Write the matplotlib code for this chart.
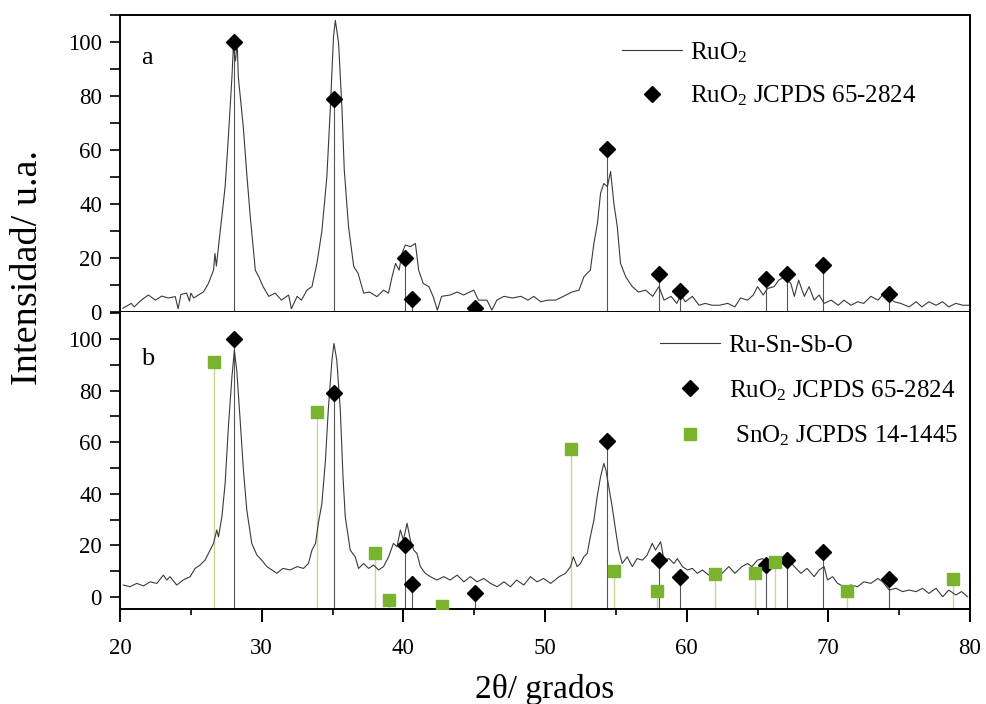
import matplotlib
matplotlib.use("Agg")
import matplotlib.pyplot as plt
from matplotlib.ticker import MultipleLocator

plt.rcParams["font.family"] = ["Liberation Serif", "DejaVu Serif"]
plt.rcParams["mathtext.fontset"] = "custom"
plt.rcParams["mathtext.rm"] = "Liberation Serif"
plt.rcParams["mathtext.it"] = "Liberation Serif:italic"

# --- pattern a: RuO2 ---
ruo2_x = [20.2, 20.8, 21.0, 21.5, 22.0, 22.5, 22.95, 23.4, 23.9, 24.1, 24.3, 24.7, 24.9, 25.0, 25.2,
          25.9, 26.24, 26.6, 26.7, 26.8, 27.19, 27.42, 27.65, 27.9, 28.0, 28.15, 28.27, 28.35, 28.7,
          28.95, 29.2, 29.55, 29.8, 30.1, 30.5, 30.95, 31.4, 31.9, 32.1, 32.5, 32.8, 33.2, 33.55, 33.9,
          34.25, 34.6, 34.84, 35.07, 35.2, 35.43, 35.67, 35.83, 36.13, 36.5, 36.8, 37.2, 37.6, 38.14,
          38.6, 38.95, 39.2, 39.45, 39.7, 39.9, 40.14, 40.5, 40.85, 41.08, 41.4, 41.8, 42.1, 42.4, 42.7,
          43.3, 43.8, 44.25, 44.97, 45.3, 45.9, 46.25, 46.6, 47.1, 47.7, 48.3, 48.8, 49.2, 49.7, 50.2,
          50.74, 51.3, 51.9, 52.4, 52.74, 52.98, 53.2, 53.45, 53.7, 53.92, 54.15, 54.4, 54.63, 54.86,
          55.1, 55.33, 55.7, 56.16, 56.6, 57.1, 57.6, 58.04, 58.4, 58.9, 59.3, 59.6, 59.9, 60.4, 60.87,
          61.3, 61.8, 62.3, 62.9, 63.4, 63.8, 64.3, 64.7, 65.0, 65.4, 65.7, 66.17, 66.5, 66.9, 67.35,
          67.6, 67.9, 68.3, 68.64, 69.0, 69.35, 69.7, 70.2, 70.7, 71.1, 71.6, 72.06, 72.5, 73.0, 73.5,
          73.83, 74.3, 74.65, 75.1, 75.7, 76.2, 76.6, 77.1, 77.6, 78.06, 78.5, 79.0, 79.5, 79.96]
ruo2_y = [1.4, 3.2, 1.9, 4.4, 6.3, 4.4, 5.9, 5.2, 5.7, 1.2, 6.5, 7.0, 4.0, 7.0, 5.2,
          7.5, 10.6, 15.5, 21.7, 17.0, 35.3, 46.4, 65.0, 87.0, 98.0, 93.0, 100.0, 87.0, 68.6,
          51.0, 35.0, 15.5, 13.0, 9.4, 5.8, 7.0, 4.4, 6.3, 1.2, 5.8, 4.4, 8.1, 9.4, 18.0,
          30.0, 50.0, 75.0, 102.0, 108.0, 99.5, 75.0, 52.6, 31.6, 16.8, 14.4, 7.0, 7.4, 5.7,
          8.1, 7.0, 13.0, 18.0, 15.5, 21.7, 24.8, 24.2, 25.4, 15.5, 10.6, 9.4, 5.8, 0.7, 5.8,
          6.3, 7.4, 6.3, 8.1, 4.4, 4.4, 0.7, 4.4, 5.8, 5.2, 5.8, 4.4, 5.8, 3.8, 4.4,
          4.4, 5.8, 7.4, 8.1, 13.0, 14.4, 15.5, 25.4, 32.8, 44.0, 47.6, 46.4, 52.0, 40.2,
          31.6, 18.0, 13.0, 9.4, 7.4, 8.1, 5.8, 9.4, 4.4, 5.8, 3.2, 6.3, 3.8, 5.8, 2.5,
          3.2, 2.5, 2.5, 3.2, 1.9, 5.2, 4.4, 6.3, 9.4, 6.3, 8.7, 9.4, 11.8, 13.0, 10.6,
          5.8, 11.8, 5.8, 9.4, 4.4, 6.3, 3.2, 4.4, 2.5, 4.4, 2.5, 3.8, 3.2, 5.8, 4.4,
          6.3, 5.2, 3.8, 3.2, 1.9, 3.8, 1.9, 3.8, 2.5, 3.8, 1.9, 3.2, 2.5, 2.5]

# --- pattern b: Ru-Sn-Sb-O ---
rssb_x = [20.23, 20.7, 21.18, 21.65, 22.12, 22.6, 23.06, 23.3, 23.53, 24.0, 24.47, 24.95, 25.3, 25.65,
          26.0, 26.36, 26.6, 26.83, 26.95, 27.19, 27.42, 27.65, 27.9, 28.07, 28.24, 28.48, 28.71,
          28.95, 29.3, 29.66, 30.0, 30.37, 30.72, 31.07, 31.5, 32.0, 32.5, 32.95, 33.3, 33.55, 33.8,
          34.0, 34.25, 34.5, 34.7, 34.96, 35.1, 35.3, 35.55, 35.74, 35.9, 36.25, 36.6, 36.84, 37.2,
          37.55, 37.9, 38.25, 38.6, 38.96, 39.3, 39.55, 39.79, 40.0, 40.26, 40.5, 40.73, 40.96, 41.2,
          41.55, 41.9, 42.37, 42.85, 43.3, 43.8, 44.27, 44.73, 45.2, 45.68, 46.15, 46.62, 47.1,
          47.56, 48.0, 48.5, 48.97, 49.44, 49.9, 50.4, 51.0, 51.45, 51.8, 52.0, 52.27, 52.5, 52.74,
          52.98, 53.2, 53.45, 53.68, 53.92, 54.15, 54.3, 54.5, 54.74, 54.98, 55.2, 55.45, 55.8, 56.16,
          56.5, 56.87, 57.2, 57.57, 57.8, 58.16, 58.4, 58.75, 59.1, 59.34, 59.7, 60.05, 60.4, 60.75,
          61.1, 61.57, 62.0, 62.5, 62.97, 63.4, 63.9, 64.3, 64.6, 65.0, 65.35, 65.7, 66.17, 66.6,
          67.1, 67.6, 68.06, 68.5, 69.0, 69.35, 69.7, 69.94, 70.3, 70.65, 71.1, 71.6, 72.06, 72.5,
          73.0, 73.5, 73.83, 74.3, 74.77, 75.24, 75.7, 76.2, 76.65, 77.1, 77.6, 78.07, 78.5, 79.0,
          79.4, 79.83]
rssb_y = [4.65, 4.0, 5.3, 4.3, 5.9, 5.3, 8.5, 6.6, 7.9, 4.65, 6.6, 7.9, 11.1, 12.4,
          14.3, 18.2, 20.8, 26.0, 23.3, 31.1, 44.0, 66.0, 85.4, 95.7, 87.9, 68.6, 49.2,
          33.7, 20.8, 16.3, 14.3, 11.8, 10.5, 9.2, 11.1, 10.5, 11.8, 11.1, 13.0, 18.2, 20.8,
          28.6, 36.3, 53.0, 72.5, 91.9, 98.3, 91.9, 72.5, 46.6, 31.1, 18.2, 15.6, 11.1, 13.0,
          11.1, 12.4, 10.5, 11.8, 15.6, 20.8, 19.5, 26.0, 22.0, 28.6, 22.0, 18.2, 16.9, 11.8,
          9.2, 7.9, 6.6, 7.9, 6.6, 8.5, 5.9, 7.9, 5.9, 7.2, 5.3, 4.0, 5.9,
          4.0, 6.6, 4.65, 7.9, 5.9, 7.2, 5.3, 7.9, 9.2, 11.8, 15.6, 11.8, 13.0, 15.6,
          16.9, 23.4, 29.8, 38.9, 46.6, 51.8, 49.2, 42.7, 35.0, 26.0, 18.2, 13.0, 15.6, 11.8,
          14.9, 14.3, 16.2, 20.8, 18.2, 21.4, 14.3, 14.9, 13.0, 14.9, 11.8, 10.5, 11.1, 9.2,
          10.5, 8.5, 9.8, 9.2, 11.8, 9.2, 11.8, 13.0, 11.8, 14.3, 14.9, 13.0, 14.9, 13.0,
          14.9, 11.8, 9.2, 11.1, 7.9, 10.5, 11.8, 6.6, 7.9, 5.3, 4.0, 4.65, 4.0, 5.9,
          5.3, 7.2, 5.9, 2.7, 3.4, 2.1, 2.7, 2.1, 3.4, 1.4, 3.4, 0.1, 2.7, 0.8,
          2.1, 0.1]

# --- reference cards ---
ruo2_ref_x = [28.05, 35.1, 40.1, 40.6, 45.05, 54.35, 58.05, 59.55, 65.6, 67.05, 69.65, 74.25]
ruo2_ref_y = [100, 79, 20, 5, 1.5, 60.5, 14.2, 7.8, 12.3, 14.2, 17.3, 6.8]
sno2_ref_x = [26.6, 33.9, 38.0, 39.0, 42.7, 51.85, 54.85, 57.9, 62.0, 64.8, 66.2, 71.35, 78.8]
sno2_ref_y = [91, 71.8, 17, -1.2, -3.5, 57.4, 10, 2.3, 8.8, 9.4, 13.7, 2.3, 6.9]

CURVE = "#3a3a3a"
STEM = "#555555"
GREEN = "#7ab32e"
GREEN_STEM = "#cdd49a"
FS_TICK = 16.5
FS_LEG = 18

fig = plt.figure(figsize=(9.87, 7.04), dpi=100)
ax_a = fig.add_axes([0.1216, 0.5568, 0.8612, 0.4219])
ax_b = fig.add_axes([0.1216, 0.1349, 0.8612, 0.4219])

ylim_a = (0, 110)
ylim_b = (-4.65, 110.5)

# panel a
ax_a.vlines(ruo2_ref_x, ylim_a[0], ruo2_ref_y, color=STEM, lw=0.8, zorder=1)
ax_a.plot(ruo2_x, ruo2_y, color=CURVE, lw=0.8, label="RuO$_2$", zorder=2)
ax_a.plot(ruo2_ref_x, ruo2_ref_y, ls="none", marker="D", ms=8, color="black",
          label="RuO$_2$ JCPDS 65-2824", zorder=3)
ax_a.set_ylim(*ylim_a)
ax_a.text(21.5, 92, "a", fontsize=19)

# panel b
ax_b.vlines(sno2_ref_x, ylim_b[0], sno2_ref_y, color=GREEN_STEM, lw=1.0, zorder=1)
ax_b.vlines(ruo2_ref_x, ylim_b[0], ruo2_ref_y, color=STEM, lw=0.8, zorder=1)
ax_b.plot(rssb_x, rssb_y, color=CURVE, lw=0.8, label="Ru-Sn-Sb-O", zorder=2)
ax_b.plot(ruo2_ref_x, ruo2_ref_y, ls="none", marker="D", ms=8, color="black",
          label="RuO$_2$ JCPDS 65-2824", zorder=3)
ax_b.plot(sno2_ref_x, sno2_ref_y, ls="none", marker="s", ms=8, color=GREEN,
          label=" SnO$_2$ JCPDS 14-1445", zorder=3)
ax_b.set_ylim(*ylim_b)
ax_b.text(21.5, 90, "b", fontsize=19)

for ax in (ax_a, ax_b):
    ax.set_xlim(20, 80)
    ax.yaxis.set_major_locator(MultipleLocator(20))
    ax.yaxis.set_minor_locator(MultipleLocator(10))
    ax.tick_params(axis="y", which="both", direction="out", length=7, width=1.2,
                   labelsize=FS_TICK, pad=6)
    for s in ax.spines.values():
        s.set_linewidth(1.4)

ax_a.tick_params(axis="x", which="both", length=0, labelbottom=False)
ax_b.spines["top"].set_visible(False)
ax_b.xaxis.set_major_locator(MultipleLocator(10))
ax_b.xaxis.set_minor_locator(MultipleLocator(5))
ax_b.tick_params(axis="x", which="major", direction="out", length=9, width=1.4,
                 labelsize=FS_TICK, pad=12)
ax_b.tick_params(axis="x", which="minor", direction="out", length=4.5, width=1.2)
ax_b.set_xlabel("2θ/ grados", fontsize=24, labelpad=11)

fig.text(0.028, 1 - 268 / 704, "Intensidad/ u.a.", rotation=90, fontsize=27.5,
         ha="center", va="center")

ax_a.legend(loc="upper left", bbox_to_anchor=(0.59, 0.915), frameon=False, fontsize=FS_LEG,
            handlelength=2.4, handletextpad=0.35, labelspacing=0.75, borderpad=0, borderaxespad=0)
ax_b.legend(loc="upper left", bbox_to_anchor=(0.635, 0.925), frameon=False, fontsize=FS_LEG,
            handlelength=2.4, handletextpad=0.35, labelspacing=0.85, borderpad=0, borderaxespad=0)

fig.savefig("out.png", dpi=100)
